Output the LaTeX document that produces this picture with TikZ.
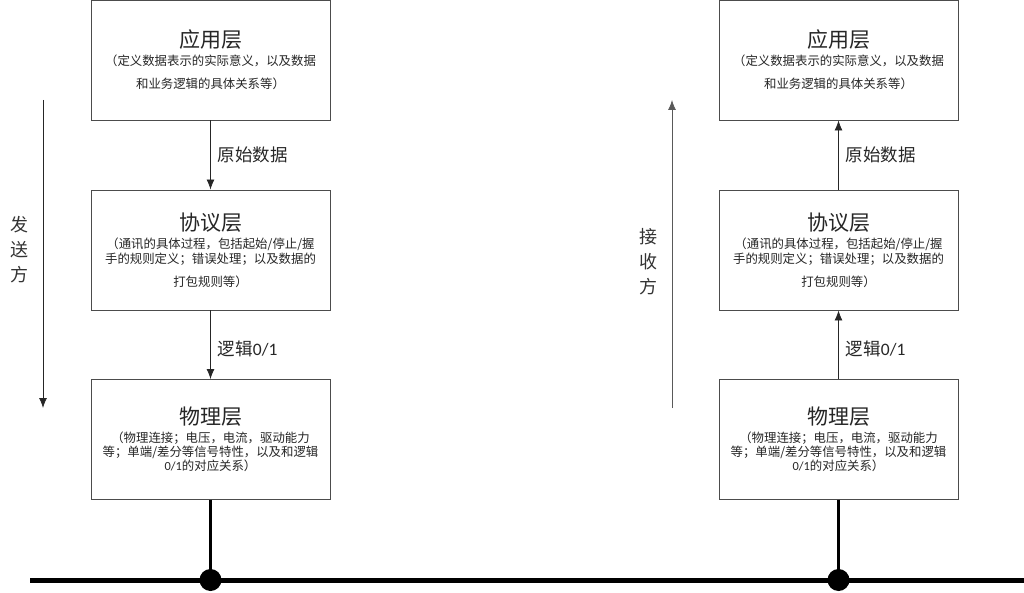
\documentclass[tikz,border=0pt]{standalone}
\usepackage{fontspec}
\setmainfont{Noto Sans CJK SC}
\newfontfamily\latinfont{Carlito}
\usetikzlibrary{arrows.meta,positioning}

\newcommand{\layertitle}[1]{{\fontsize{21}{24}\selectfont #1}}
\newcommand{\zo}{{\latinfont 0/1}}

\begin{document}
\begin{tikzpicture}[x=1pt,y=-1pt,
        layer/.style={rectangle,draw=black!70,line width=0.9pt,fill=white,
            minimum width=239pt,minimum height=120pt,inner sep=0pt,align=center,
            text=black!85,font=\fontsize{12.4}{14}\selectfont},
        flow/.style={-{Latex[length=10pt,width=8pt]},line width=0.8pt,draw=black!85},
        flowlabel/.style={right,inner sep=0pt,xshift=7pt,text=black!85,
            font=\fontsize{17.5}{20}\selectfont},
        side/.style={align=center,text=black!80,font=\fontsize{18}{25}\selectfont},
        joint/.style={circle,fill=black,inner sep=0pt,minimum size=22pt}
        ]
    \useasboundingbox (0,0) rectangle (1024,593);

    % the three layers, once for each side
    \foreach \s/\x in {L/210.5,R/838.5} {
        \node[layer] (app\s) at (\x,60) {\layertitle{应用层}\\[4pt]
            （定义数据表示的实际意义，以及数据\\[9pt]
            和业务逻辑的具体关系等）};
        \node[layer] (proto\s) at (\x,250) {\layertitle{协议层}\\[4pt]
            （通讯的具体过程，包括起始/停止/握\\[1pt]
            手的规则定义；错误处理；以及数据的\\[9pt]
            打包规则等）};
        \node[layer] (phys\s) at (\x,439.5) {\layertitle{物理层}\\[4pt]
            （物理连接；电压，电流，驱动能力\\[0pt]
            等；单端/差分等信号特性，以及和逻辑\\[0pt]
            \zo 的对应关系）};
        \node[joint] (dot\s) at (\x,580) {};
        \draw[line width=3pt] (phys\s.south) -- (dot\s.center);
    }

    % bus
    \coordinate (busW) at (30,580);
    \coordinate (busE) at (1024,580);
    \draw[line width=5pt] (busW) -- (busE);

    % sender: downwards
    \draw[flow] (appL) -- node[flowlabel] {原始数据} (protoL);
    \draw[flow] (protoL) -- node[flowlabel,yshift=-4pt] {逻辑\zo} (physL);
    % receiver: upwards
    \draw[flow] (protoR) -- node[flowlabel] {原始数据} (appR);
    \draw[flow] (physR) -- node[flowlabel,yshift=-4pt] {逻辑\zo} (protoR);

    % direction of the whole stack
    \coordinate (sendTop) at (43,100);
    \coordinate (sendEnd) at (43,408);
    \draw[flow] (sendTop) -- (sendEnd);
    \node[side] (sendLbl) at (19,250) {发\\送\\方};

    \coordinate (recvEnd) at (672,408);
    \coordinate (recvTop) at (672,100);
    \draw[flow,draw=black!65] (recvEnd) -- (recvTop);
    \node[side] (recvLbl) at (648,262) {接\\收\\方};
\end{tikzpicture}
\end{document}
